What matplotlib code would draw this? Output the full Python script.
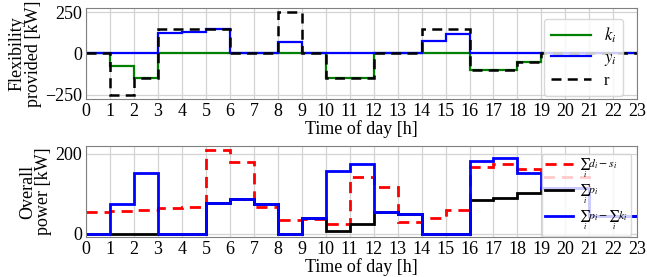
import numpy as np
import matplotlib
matplotlib.use("Agg")
import matplotlib.pyplot as plt

plt.rcParams["font.family"] = ["Liberation Serif", "DejaVu Serif"]
plt.rcParams["mathtext.fontset"] = "stix"

# ── Data (hourly, step-wise, hours 0..22) ─────────────────────────────
hours = np.arange(0, 24)

k_i = [0, -75, -150, 0, 0, 0, 0, 0, 0, 0, -150, -150, 0, 0, 0, 0,
       -100, -100, -50, 0, 0, 0, 0]
y_i = [0, 0, 0, 123, 131, 150, 0, 0, 69, 0, 0, 0, 0, 0, 75, 117,
       0, 0, 0, 0, 0, 0, 0]
r = [0, -250, -150, 150, 150, 150, 0, 0, 250, 0, -150, -150, 0, 0, 150, 150,
     -100, -100, -50, 0, 0, 0, 0]

d_minus_s = [54, 57, 60, 63, 66, 211, 180, 67, 34, 37, 24, 141, 118, 28, 39, 60,
             168, 175, 163, 141, 141, 45, 45]
sum_p = [0, 0, 0, 0, 0, 76, 87, 75, 0, 39, 6, 24, 54, 50, 0, 0,
         83, 89, 102, 115, 115, 44, 44]
p_minus_k = [0, 74, 151, 0, 0, 76, 87, 75, 0, 39, 156, 174, 54, 50, 0, 0,
             183, 189, 152, 115, 115, 44, 44]


def style_axes(ax):
    ax.grid(True, color="#d3d3d3", lw=0.9)
    ax.set_axisbelow(True)
    for s in ax.spines.values():
        s.set_color("#808080")
    ax.tick_params(length=0, labelsize=13, pad=3)
    ax.set_xlim(0, 23)
    ax.set_xticks(hours)
    ax.set_xlabel("Time of day [h]", fontsize=13, labelpad=0)


fig = plt.figure(figsize=(6.47, 2.77), dpi=100)
ax1 = fig.add_axes([0.133, 0.643, 0.852, 0.328])
ax2 = fig.add_axes([0.133, 0.144, 0.852, 0.329])

# ── Top: flexibility ──────────────────────────────────────────────────
ax1.stairs(k_i, hours, baseline=None, color="green", lw=1.6, label="$k_i$")
ax1.stairs(y_i, hours, baseline=None, color="blue", lw=1.6, label="$y_i$")
ax1.stairs(r, hours, baseline=None, color="black", lw=1.8, ls=(0, (4, 2.5)),
           label="r")
style_axes(ax1)
ax1.set_ylim(-275, 275)
ax1.set_yticks([-250, 0, 250])
ax1.set_ylabel("Flexibility\nprovided [kW]", fontsize=13, labelpad=2,
               linespacing=0.95)
ax1.legend(loc="upper right", fontsize=12, edgecolor="#d0d0d0",
           labelspacing=0.3, borderpad=0.4, handlelength=2.4,
           bbox_to_anchor=(0.99, 0.97))

# ── Bottom: overall power ─────────────────────────────────────────────
ax2.stairs(d_minus_s, hours, baseline=None, color="red", lw=2.0,
           ls=(0, (4, 2.5)), label=r"$\sum_i d_i - s_i$")
ax2.stairs(sum_p, hours, baseline=None, color="black", lw=2.0,
           label=r"$\sum_i p_i$")
ax2.stairs(p_minus_k, hours, baseline=None, color="blue", lw=2.0,
           label=r"$\sum_i p_i - \sum_i k_i$")
style_axes(ax2)
ax2.set_ylim(-9, 220)
ax2.set_yticks([0, 200])
ax2.set_ylabel("Overall\npower [kW]", fontsize=13, labelpad=2,
               linespacing=0.95)
ax2.legend(loc="upper right", fontsize=8.5, edgecolor="#d0d0d0",
           handlelength=2.4, labelspacing=0.25, borderpad=0.3,
           handletextpad=0.5, bbox_to_anchor=(1.0, 0.98))

fig.savefig("out.png", dpi=100)
